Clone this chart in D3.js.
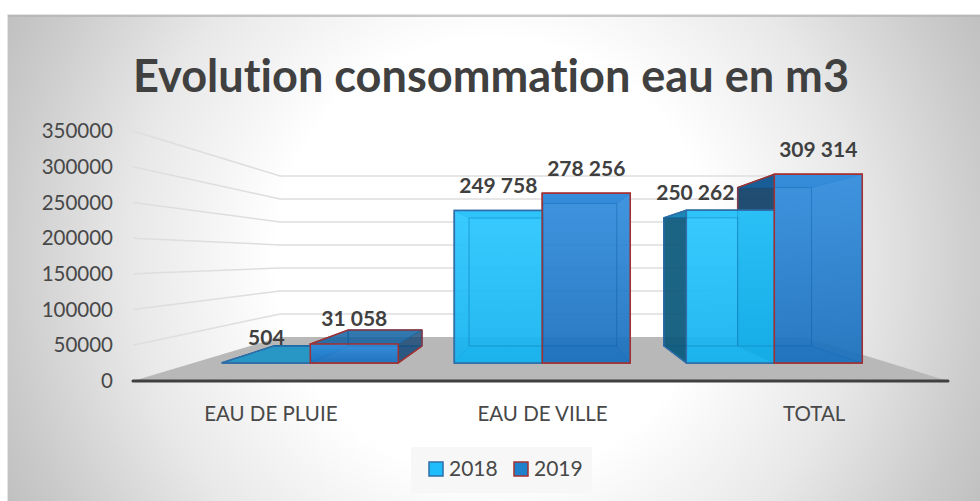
<!DOCTYPE html>
<html>
<head>
<meta charset="utf-8">
<script src="https://cdn.jsdelivr.net/npm/d3@7"></script>
<style>
  html, body { margin: 0; padding: 0; background: #fff; }
  svg { display: block; }
  text { font-family: Lato, "Open Sans", sans-serif; font-variant-ligatures: none; }
</style>
</head>
<body>
<script>
  var categories = ["EAU DE PLUIE", "EAU DE VILLE", "TOTAL"];
  var years = ["2018", "2019"];
  var values2018 = [504, 249758, 250262];
  var values2019 = [31058, 278256, 309314];
  var yTicks = [0, 50000, 100000, 150000, 200000, 250000, 300000, 350000];

  var width = 980, height = 501;

  var svg = d3.select("body").append("svg")
    .attr("width", width)
    .attr("height", height);

  var defs = svg.append("defs");
  var bg = defs.append("radialGradient").attr("id", "bg")
    .attr("gradientUnits", "userSpaceOnUse")
    .attr("cx", 494).attr("cy", 258).attr("r", 545);
  bg.append("stop").attr("offset", "0.4").attr("stop-color", "#ffffff");
  bg.append("stop").attr("offset", "0.67").attr("stop-color", "#e8e8e8");
  bg.append("stop").attr("offset", "0.9").attr("stop-color", "#cbcbcb");
  bg.append("stop").attr("offset", "1").attr("stop-color", "#c0c0c0");

  function frontGradient(id, top, bottom) {
    var g = defs.append("linearGradient").attr("id", id)
      .attr("x1", 0).attr("y1", 0).attr("x2", 0).attr("y2", 1);
    g.append("stop").attr("offset", 0).attr("stop-color", top);
    g.append("stop").attr("offset", 1).attr("stop-color", bottom);
  }
  frontGradient("front2018", "#2cc8ff", "#14b2ee");
  frontGradient("front2019", "#348ede", "#1a70bc");

  svg.append("rect")
    .attr("x", 8).attr("y", 15)
    .attr("width", 972).attr("height", 486)
    .attr("fill", "url(#bg)");

  // panel edge: light outline, thin dark strip under it
  svg.append("path")
    .attr("d", "M7.5,501V14.5H980")
    .attr("fill", "none")
    .attr("stroke", "#e4e4e4");
  svg.append("rect")
    .attr("x", 8).attr("y", 15)
    .attr("width", 972).attr("height", 2)
    .attr("fill", "#b4b4b4")
    .attr("fill-opacity", 0.7);

  // front plane scales, everything else is projected from them
  var x0 = d3.scaleBand().domain(categories).range([133, 948]);
  var x1 = d3.scaleBand().domain(years).range([34, 240]);
  var y = d3.scaleLinear().domain([0, 350000]).range([381, 131]);

  // perspective: vanishing point + scale factor for a depth
  var vx = 546, vy = 257.3;
  var wallDepth = 0.644, barFront = 0.854, barBack = 0.717;

  function project(px, value, s) {
    return [vx + s * (px - vx), vy + s * (y(value) - vy)];
  }
  function pathOf(pts) {
    return "M" + pts.map(function(p) { return p.join(","); }).join("L") + "Z";
  }

  // floor
  svg.append("path")
    .attr("d", pathOf([
      project(133, 0, 1), project(948, 0, 1),
      project(948, 0, wallDepth), project(133, 0, wallDepth)
    ]))
    .attr("fill", "#b8b8b8");

  // gridlines, side wall then back wall
  yTicks.slice(1).forEach(function(t) {
    var pts = [project(133, t, 1), project(133, t, wallDepth), project(948, t, wallDepth)];
    svg.append("path")
      .attr("d", d3.line()(pts))
      .attr("fill", "none")
      .attr("stroke", "#dedede")
      .attr("stroke-width", 1.5);
  });

  // y labels
  svg.selectAll(".ytick").data(yTicks).enter().append("text")
    .attr("class", "ytick")
    .attr("x", 113)
    .attr("y", function(d) { return y(d); })
    .attr("dy", "0.35em")
    .attr("text-anchor", "end")
    .attr("font-size", 20.5)
    .attr("fill", "#484848")
    .text(function(d) { return d; });

  // category labels
  svg.selectAll(".cat").data(categories).enter().append("text")
    .attr("class", "cat")
    .attr("x", function(d) { return x0(d) + x0.bandwidth() / 2 + 2; })
    .attr("y", 421)
    .attr("text-anchor", "middle")
    .attr("font-size", 20.5)
    .attr("fill", "#484848")
    .text(function(d) { return d; });

  // axis line
  svg.append("line")
    .attr("x1", 133).attr("x2", 948)
    .attr("y1", y(0)).attr("y2", y(0))
    .attr("stroke", "#404040")
    .attr("stroke-width", 3)
    .attr("stroke-linecap", "round");

  var style2018 = {fill: "#1fbdfb", front: "url(#front2018)", line: "#2f6ea8", side: "#0c5575", top: "#1a8fc0"};
  var style2019 = {fill: "#1f78cc", front: "url(#front2019)", line: "#a5302f", side: "#123f66", top: "#14609f"};

  function boxPoints(left, right, value) {
    return {
      fbl: project(left, 0, barFront), fbr: project(right, 0, barFront),
      ftl: project(left, value, barFront), ftr: project(right, value, barFront),
      bbl: project(left, 0, barBack), bbr: project(right, 0, barBack),
      btl: project(left, value, barBack), btr: project(right, value, barBack)
    };
  }

  function drawFaces(b, st) {
    // a side is dark only where it sticks out past the front face
    var leftOut = b.btl[0] < b.ftl[0], rightOut = b.btr[0] > b.ftr[0];
    var faces = [
      {p: [b.btl, b.btr, b.bbr, b.bbl], c: st.fill, o: 0.35},
      {p: [b.bbl, b.bbr, b.fbr, b.fbl], c: st.fill, o: 0.55},
      {p: [b.ftl, b.btl, b.bbl, b.fbl], c: leftOut ? st.side : st.fill, o: leftOut ? 0.9 : 0.3},
      {p: [b.ftr, b.btr, b.bbr, b.fbr], c: rightOut ? st.side : st.fill, o: rightOut ? 0.7 : 0.3},
      {p: [b.ftl, b.ftr, b.btr, b.btl], c: st.top, o: 0.8}
    ];
    faces.forEach(function(f) {
      svg.append("path")
        .attr("d", pathOf(f.p))
        .attr("fill", f.c)
        .attr("fill-opacity", f.o)
        .attr("stroke", "#14609f")
        .attr("stroke-opacity", 0.6);
    });
    var hull = d3.polygonHull([b.fbl, b.fbr, b.ftl, b.ftr, b.bbl, b.bbr, b.btl, b.btr]);
    svg.append("path")
      .attr("d", pathOf(hull))
      .attr("fill", "none")
      .attr("stroke", st.line)
      .attr("stroke-width", 1.5);
  }

  function drawFront(b, st) {
    svg.append("path")
      .attr("d", pathOf([b.ftl, b.ftr, b.fbr, b.fbl]))
      .attr("fill", st.front)
      .attr("fill-opacity", 0.9)
      .attr("stroke", st.line)
      .attr("stroke-width", 1.5);
    // back frame still shows through the front
    svg.append("path")
      .attr("d", pathOf([b.btl, b.btr, b.bbr, b.bbl]))
      .attr("fill", "none")
      .attr("stroke", "#14609f")
      .attr("stroke-opacity", 0.3);
  }

  categories.forEach(function(cat, i) {
    var box18 = boxPoints(x0(cat) + x1("2018"), x0(cat) + x1("2018") + x1.bandwidth(), values2018[i]);
    var box19 = boxPoints(x0(cat) + x1("2019"), x0(cat) + x1("2019") + x1.bandwidth(), values2019[i]);
    drawFaces(box19, style2019);
    drawFaces(box18, style2018);
    drawFront(box18, style2018);
    drawFront(box19, style2019);
  });

  // data labels
  function labelText(v) {
    return d3.format(",")(v).replace(/,/g, " ");
  }
  function addLabels(values, year) {
    categories.forEach(function(cat, i) {
      var mid = x0(cat) + x1(year) + x1.bandwidth() / 2;
      var p = project(mid, values[i], barFront);
      var nudge = (cat === "TOTAL" && year === "2018");
      svg.append("text")
        .attr("x", p[0] + (nudge ? -35 : 0))
        .attr("y", p[1] + (nudge ? -18 : -25))
        .attr("dy", "0.35em")
        .attr("text-anchor", "middle")
        .attr("font-size", 21)
        .attr("font-weight", 700)
        .attr("fill", "#404040")
        .text(labelText(values[i]));
    });
  }
  addLabels(values2018, "2018");
  addLabels(values2019, "2019");

  // title
  svg.append("text")
    .attr("x", 491).attr("y", 92)
    .attr("text-anchor", "middle")
    .attr("font-size", 45.1)
    .attr("font-weight", 700)
    .attr("fill", "#404040")
    .text("Evolution consommation eau en m3");

  // legend
  svg.append("rect")
    .attr("x", 411).attr("y", 447)
    .attr("width", 181).attr("height", 46)
    .attr("fill", "#f7f7f7");

  var legend = svg.selectAll(".leg").data(years).enter().append("g")
    .attr("class", "leg")
    .attr("transform", function(d, i) { return "translate(" + (429 + i * 85) + ",462)"; });
  legend.append("rect")
    .attr("width", 14).attr("height", 14)
    .attr("fill", function(d, i) { return i ? "#1f80cc" : style2018.fill; })
    .attr("stroke", function(d, i) { return i ? style2019.line : style2018.line; })
    .attr("stroke-width", 1.5);
  legend.append("text")
    .attr("x", 20).attr("y", 7)
    .attr("dy", "0.35em")
    .attr("font-size", 21)
    .attr("fill", "#484848")
    .text(function(d) { return d; });
</script>
</body>
</html>
